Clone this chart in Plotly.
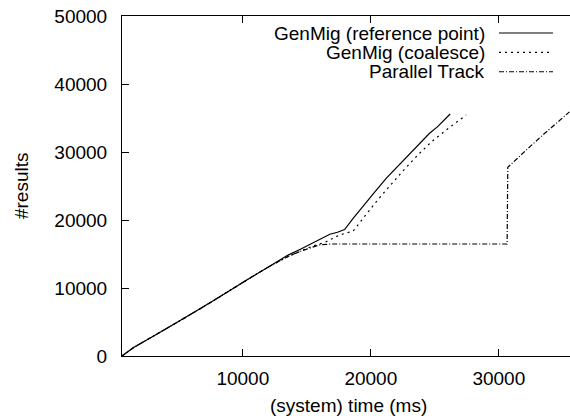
import plotly.graph_objects as go

# ---- data ----
ref_x = [560, 1500, 3000, 4500, 6000, 7500, 9000, 10500, 12000, 13500, 14500,
         15500, 16300, 16800, 17400, 17950, 18620, 19380, 20300, 21200, 22300,
         23290, 24000, 24590, 25200, 25620, 26200]
ref_y = [0, 1300, 2900, 4500, 6200, 7900, 9700, 11400, 13100, 14800, 15700,
         16700, 17400, 17900, 18200, 18600, 20250, 22060, 24100, 26130, 28300,
         30290, 31600, 32750, 33700, 34460, 35590]

coal_x = [560, 1500, 3000, 4500, 6000, 7500, 9000, 10500, 12000, 13500, 14500,
          15500, 16400, 17550, 18620, 19380, 20300, 21200, 22500, 23800, 24800,
          25890, 26700, 27450]
coal_y = [0, 1300, 2900, 4500, 6200, 7900, 9700, 11400, 13100, 14600, 15400,
          16200, 16700, 17790, 18380, 20250, 22400, 24410, 27200, 29800, 31600,
          33240, 34400, 35440]

pt_x = [560, 1500, 3000, 4500, 6000, 7500, 9000, 10500, 12000, 13500, 14500,
        15500, 16000, 17000, 30650, 30700, 31500, 32500, 33500, 34500, 35520]
pt_y = [0, 1300, 2900, 4500, 6200, 7900, 9700, 11400, 13100, 14600, 15400,
        16000, 16350, 16470, 16470, 27750, 29200, 30900, 32600, 34200, 35900]

series_names = ["GenMig (reference point)", "GenMig (coalesce)", "Parallel Track"]
series_dash = ["solid", "2px,4px", "5px,2px,1px,2px"]

x_ticks = [10000, 20000, 30000]
y_ticks = [0, 10000, 20000, 30000, 40000, 50000]

FONT = "Liberation Sans, Arial, Helvetica, sans-serif"

fig = go.Figure()
for xs, ys, name, dash in zip([ref_x, coal_x, pt_x], [ref_y, coal_y, pt_y],
                              series_names, series_dash):
    fig.add_trace(go.Scatter(x=xs, y=ys, mode="lines", name=name,
                             line=dict(color="black", width=1.2, dash=dash),
                             showlegend=False, hoverinfo="skip"))

# manual legend: text on the left, sample line on the right
leg_y = [0.950, 0.893, 0.836]
for name, dash, yy in zip(series_names, series_dash, leg_y):
    fig.add_annotation(x=0.8147, y=yy, xref="paper", yref="paper", text=name,
                       showarrow=False, xanchor="right", yanchor="middle",
                       font=dict(family=FONT, size=19, color="black"))
    fig.add_shape(type="line", xref="paper", yref="paper",
                  x0=0.8415, x1=0.962, y0=yy, y1=yy,
                  line=dict(color="black", width=1.2, dash=dash))

# axis titles
fig.add_annotation(x=-0.2254, y=0.5, xref="paper", yref="paper", text="#results",
                   textangle=-90, showarrow=False, xanchor="center", yanchor="middle",
                   font=dict(family=FONT, size=19, color="black"))
fig.add_annotation(x=0.505, y=-0.147, xref="paper", yref="paper",
                   text="(system) time (ms)", showarrow=False,
                   xanchor="center", yanchor="middle",
                   font=dict(family=FONT, size=19, color="black"))

fig.update_layout(
    width=570, height=416,
    margin=dict(l=122, r=0, t=16, b=60, pad=0),
    paper_bgcolor="white", plot_bgcolor="white",
    font=dict(family=FONT, size=19, color="black"),
    xaxis=dict(range=[562, 35562], tickvals=x_ticks, ticktext=[str(v) for v in x_ticks],
               ticks="inside", ticklen=7, tickwidth=1, tickcolor="black",
               showline=True, linecolor="black", linewidth=1, mirror="ticks",
               showgrid=False, zeroline=False, ticklabelstandoff=5),
    yaxis=dict(range=[0, 50000], tickvals=y_ticks, ticktext=[str(v) for v in y_ticks],
               ticks="inside", ticklen=7, tickwidth=1, tickcolor="black",
               showline=True, linecolor="black", linewidth=1, mirror=False,
               showgrid=False, zeroline=False, ticklabelstandoff=10),
)

fig.write_html("out.html", config={"displayModeBar": False},
               post_script="document.body.style.margin='0px';document.body.style.overflow='hidden';")
